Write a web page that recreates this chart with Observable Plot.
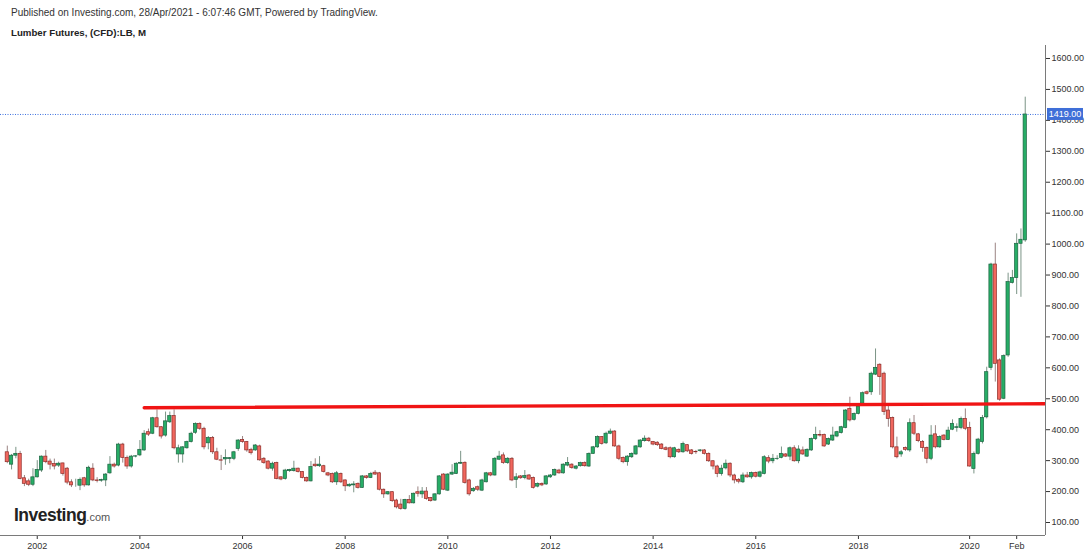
<!DOCTYPE html>
<html><head><meta charset="utf-8">
<script src="https://cdn.jsdelivr.net/npm/d3@7"></script>
<script src="https://cdn.jsdelivr.net/npm/@observablehq/plot@0.6"></script>
<style>
body{margin:0;background:#fff;font-family:Arial,"Liberation Sans",sans-serif;}
#wrap{position:relative;width:1087px;height:555px;overflow:hidden;background:#fff}
#h1{position:absolute;left:11px;top:7px;font-size:10px;color:#333;white-space:nowrap}
#h2{position:absolute;left:11px;top:27px;font-size:9.7px;font-weight:bold;color:#222;white-space:nowrap}
#chart{position:absolute;left:0;top:45px}
#logo{position:absolute;left:14px;top:505px;white-space:nowrap;color:#222}
#logo b{font-size:17.5px;font-weight:bold;letter-spacing:-0.5px}
#logo span{font-size:11px;color:#555}
</style></head>
<body>
<div id="wrap">
<div id="h1">Published on Investing.com, 28/Apr/2021 - 6:07:46 GMT, Powered by TradingView.</div>
<div id="h2">Lumber Futures, (CFD):LB, M</div>
<div id="chart"></div>
<div id="logo"><b>Investing</b><span>.com</span></div>
</div>
<script>
// Monthly candles, first month = June 2001, last = April 2021
const startMonth = "2001-06";
const open = [
327,287,316,322,243,233,222,246,268,313,297,289,284,291,274,230,222,219,243,220,274,236,
235,236,259,287,284,352,309,281,313,317,333,392,387,437,408,381,424,444,320,320,340,360,390,
419,403,356,373,327,301,304,305,306,338,367,360,335,333,346,306,297,274,292,246,241,266,
266,274,263,244,233,287,282,282,259,257,230,257,236,217,220,225,212,249,244,261,259,206,
191,198,171,158,144,173,162,198,191,200,179,171,191,255,203,255,257,290,293,236,201,214,
203,230,259,252,303,317,292,306,238,249,244,252,244,216,225,223,246,252,268,259,284,
287,274,282,292,281,322,343,376,356,387,394,346,309,295,311,320,343,363,371,360,358,352,340,
340,311,335,327,350,333,328,331,333,322,298,281,257,275,290,252,238,230,252,246,260,248,257,
308,298,305,309,320,313,340,298,333,313,333,370,383,383,352,365,378,389,406,467,432,451,
484,521,521,578,610,581,462,438,343,320,341,333,421,385,360,341,306,385,343,381,367,400,
406,406,435,406,273,322,360,440,600,934,624,500,640,874,890,1001,1012];
const high = [
347,320,343,330,252,240,274,300,315,333,305,305,295,292,278,238,240,244,246,282,290,245,
240,258,313,292,356,356,315,317,316,365,397,402,440,464,410,457,457,464,350,345,363,392,422,
422,408,378,378,340,317,335,310,330,368,378,362,340,352,350,310,300,295,295,248,272,272,
298,276,265,247,297,306,313,285,262,260,265,260,238,225,232,228,252,252,262,268,262,208,
200,200,175,175,175,187,195,215,213,213,181,193,252,258,258,287,293,330,296,240,213,218,
240,262,262,310,330,325,310,310,258,252,268,255,247,228,228,252,255,273,272,290,310,
290,284,295,296,325,346,380,378,392,402,397,350,312,316,325,349,368,380,375,362,361,355,345,
344,343,338,360,352,336,333,336,336,325,300,285,285,302,293,256,242,260,262,263,263,266,316,
316,320,316,344,323,344,348,348,344,338,373,408,397,386,373,408,395,411,465,505,454,478,
522,525,586,661,613,586,479,441,376,333,344,435,446,388,365,344,413,413,380,384,408,432,
419,441,467,424,328,372,446,602,938,1003,629,642,906,915,1033,1049,1475];
const low = [
290,270,306,238,216,216,216,244,262,290,270,270,278,250,222,213,214,203,214,218,232,228,
230,216,256,276,280,292,272,276,309,313,330,378,384,405,370,376,420,335,292,292,337,357,385,
398,335,335,320,300,268,285,290,300,330,356,327,318,330,298,288,270,266,238,235,237,262,
263,260,241,230,231,278,278,260,248,226,220,226,200,214,196,208,210,240,242,252,202,178,
188,165,144,140,140,160,160,182,178,172,166,168,188,203,200,252,255,288,224,185,198,200,
200,228,248,250,300,288,288,232,210,240,238,236,208,212,216,220,243,249,256,256,280,
272,270,279,279,278,320,340,350,352,384,343,300,290,282,307,317,340,360,359,348,346,335,332,
306,308,323,324,326,318,320,327,318,294,270,245,250,270,245,225,225,226,243,240,244,244,254,
290,290,301,306,310,300,295,290,317,310,330,365,376,343,349,362,374,386,403,425,428,448,
478,512,511,575,511,446,408,338,306,311,330,327,381,358,327,290,300,338,340,364,365,397,
392,400,397,279,257,318,354,435,591,554,492,497,634,871,837,828,1006];
const close = [
295,316,322,241,225,222,246,270,313,295,287,281,290,257,229,220,222,238,220,277,236,234,
237,255,287,281,352,309,281,313,314,335,387,384,437,408,378,427,444,340,340,343,360,387,419,
403,343,373,327,303,300,309,308,327,365,360,333,324,349,301,292,274,290,241,239,268,270,
274,263,244,233,279,282,287,263,252,230,259,230,217,222,223,212,249,244,257,255,206,191,
198,169,149,144,173,162,193,193,200,176,169,191,249,206,255,261,290,293,228,191,209,206,
236,259,252,306,313,292,306,236,246,243,250,239,212,225,220,249,252,270,259,287,292,
276,281,292,282,322,343,376,354,387,394,346,306,295,313,322,346,365,371,363,352,350,338,335,
311,340,327,354,330,322,327,333,322,298,281,257,274,290,252,236,232,252,246,260,248,262,311,
297,306,306,322,313,340,298,336,320,335,370,383,381,346,370,381,392,408,462,430,451,475,
518,516,581,600,570,457,435,343,311,327,335,421,387,363,341,306,381,343,376,367,397,419,
408,435,403,281,322,368,438,586,934,613,497,638,877,890,1001,1014,1419];

const yTicks = [100,200,300,400,500,600,700,800,900,1000,1100,1200,1300,1400,1500,1600];
const xTickMonths = ["2002-01","2004-01","2006-01","2008-01","2010-01","2012-01","2014-01","2016-01","2018-01","2020-03","2021-02"];
const xTickLabels = ["2002","2004","2006","2008","2010","2012","2014","2016","2018","2020","Feb"];
// resistance line drawn on the chart (month, price)
const trendMonths = ["2004-02","2021-09"];
const trendValues = [471, 484];

const [sy, sm] = startMonth.split("-").map(Number);
const idx = m => { const [y, mo] = m.split("-").map(Number); return (y - sy) * 12 + (mo - sm); };
const bars = open.map((o, i) => ({n: i, o, h: high[i], l: low[i], c: close[i], up: close[i] >= o}));
const upBars = bars.filter(d => d.up), dnBars = bars.filter(d => !d.up);
const tickIdx = xTickMonths.map(idx);
const tickMap = new Map(tickIdx.map((v, i) => [v, xTickLabels[i]]));
const trend = trendMonths.map((m, i) => ({n: idx(m), v: trendValues[i]}));
const last = close[close.length - 1];

const W = 1087, H = 510, MR = 42, MB = 20;
const plot = Plot.plot({
  width: W, height: H, marginLeft: 0, marginRight: MR, marginTop: 0, marginBottom: MB,
  style: {fontFamily: 'Arial,"Liberation Sans",sans-serif', fontSize: "9px", color: "#333", background: "#fff", overflow: "visible"},
  x: {type: "linear", domain: [-1.59, 242.74], axis: "bottom", ticks: tickIdx, tickFormat: d => tickMap.get(d), tickSize: 4, tickPadding: 3, label: null},
  y: {type: "linear", domain: [58, 1642], axis: "right", ticks: yTicks, tickFormat: d3.format(".2f"), tickSize: 4, tickPadding: 2, label: null},
  marks: [
    Plot.ruleY([last], {stroke: "#3f72e0", strokeWidth: 1, strokeDasharray: "1,1.5"}),
    Plot.ruleX(upBars, {x: "n", y1: "l", y2: "h", stroke: "#7b9486", strokeWidth: 1}),
    Plot.ruleX(dnBars, {x: "n", y1: "l", y2: "h", stroke: "#9b8483", strokeWidth: 1}),
    Plot.rect(upBars, {x1: d => d.n - 0.38, x2: d => d.n + 0.38, y1: "o", y2: "c", fill: "#27ad66", stroke: "#1b6340", strokeWidth: 0.7}),
    Plot.rect(dnBars, {x1: d => d.n - 0.38, x2: d => d.n + 0.38, y1: "o", y2: "c", fill: "#f0675e", stroke: "#8e2c28", strokeWidth: 0.7}),
    Plot.line(trend, {x: "n", y: "v", stroke: "#f01414", strokeWidth: 3.3, clip: true})
  ]
});
document.getElementById("chart").appendChild(plot);

// axis lines and last-price label
const svg = d3.select(plot);
const xr = W - MR, yb = H - MB;
svg.append("line").attr("x1", xr + 0.5).attr("x2", xr + 0.5).attr("y1", 0).attr("y2", yb).attr("stroke", "#7a7a7a");
svg.append("line").attr("x1", 0).attr("x2", xr).attr("y1", yb + 0.5).attr("y2", yb + 0.5).attr("stroke", "#7a7a7a");
const ly = plot.scale("y").apply(last);
svg.append("rect").attr("x", xr + 2).attr("y", ly - 6).attr("width", 36).attr("height", 12).attr("fill", "#3f6fd8");
svg.append("text").attr("x", xr + 20).attr("y", ly).attr("dy", "0.35em").attr("text-anchor", "middle")
  .attr("fill", "#fff").attr("font-size", 9).attr("font-family", 'Arial,"Liberation Sans",sans-serif').text(d3.format(".2f")(last));
</script>
</body></html>
